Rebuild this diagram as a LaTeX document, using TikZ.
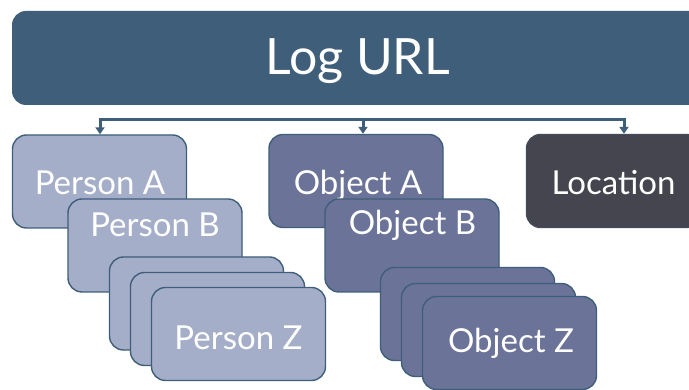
\documentclass[tikz,border=0pt]{standalone}
\usepackage{fontspec}
\setmainfont{Lato}
\usetikzlibrary{arrows.meta}
\definecolor{barblue}{HTML}{3F5E7A}
\definecolor{personfill}{HTML}{A5AEC9}
\definecolor{objectfill}{HTML}{6B7399}
\definecolor{placefill}{HTML}{45454F}
\tikzset{
  box/.style={rectangle, rounded corners=14pt, draw=barblue, line width=1.4pt,
    minimum width=174pt, minimum height=93pt, inner sep=0pt},
  personbox/.style={box, fill=personfill},
  objectbox/.style={box, fill=objectfill},
  placebox/.style={box, fill=placefill, draw=placefill!80!barblue},
  lbl/.style={text=white, font=\fontsize{33}{36}\selectfont, inner sep=0pt, anchor=base},
  link/.style={draw=barblue, line width=3pt},
  tip/.style={link, -{Triangle[width=9pt,length=7pt]}}
}
\begin{document}
\begin{tikzpicture}[x=1pt,y=1pt]
\useasboundingbox (0,0) rectangle (689,390);
\clip (0,0) rectangle (689,390);
\fill[white] (0,0) rectangle (689,390);

% header bar
\node[rectangle, rounded corners=14pt, fill=barblue, minimum width=693pt,
  minimum height=94pt, inner sep=0pt] (bar) at (358.5,332) {};
\node[text=white, font=\fontsize{50}{56}\selectfont, inner sep=0pt, anchor=base]
  (bart) at (357.5,315) {Log URL};

% person stack
\node[personbox] (pa) at (99.5,208.5) {};
\node[lbl] (pat) at (100,195) {Person A};
\node[personbox] (pb) at (155,144.5) {};
\node[lbl] (pbt) at (155,153) {Person B};
\node[personbox] (p1) at (196.5,86.5) {};
\node[personbox] (p2) at (217.5,71) {};
\node[personbox] (pz) at (238.5,56) {};
\node[lbl] (pzt) at (238.5,40) {Person Z};

% object stack
\node[objectbox] (oa) at (356,209) {};
\node[lbl] (oat) at (358,195) {Object A};
\node[objectbox] (ob) at (412,144.5) {};
\node[lbl] (obt) at (412.5,155) {Object B};
\node[objectbox] (o1) at (467.5,76) {};
\node[objectbox] (o2) at (488.5,60) {};
\node[objectbox] (oz) at (509.5,47) {};
\node[lbl] (ozt) at (511,37) {Object Z};

% location
\node[placebox] (loc) at (613.5,209) {};
\node[lbl] (loct) at (613.5,195) {Location};

% distribution line
\coordinate (j1) at (100,270);
\coordinate (j2) at (363,270);
\coordinate (j3) at (624,270);
\draw[link, line cap=rect] (j1) -- (j3);
\draw[tip] (j1) -- (j1 |- pa.north);
\draw[tip] (j2) -- (j2 |- oa.north);
\draw[tip] (j3) -- (j3 |- loc.north);
\end{tikzpicture}
\end{document}
